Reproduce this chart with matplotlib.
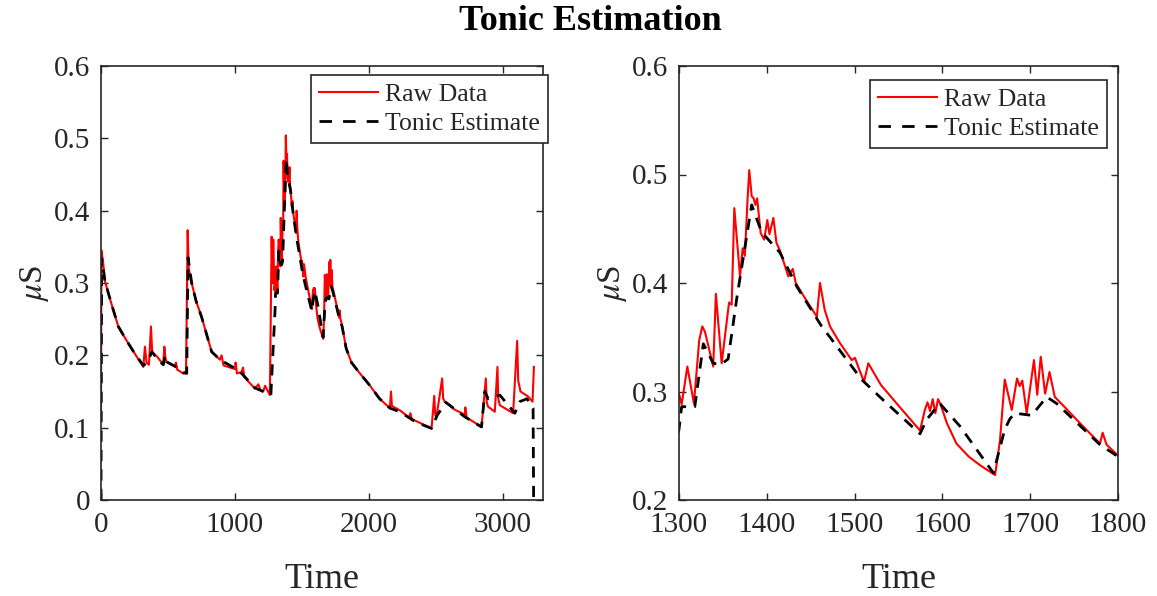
import matplotlib
matplotlib.use("Agg")
import matplotlib.pyplot as plt

# raw skin conductance trace (time, microsiemens)
raw_time = [0, 3, 15, 30, 80, 129, 179, 250, 316, 328, 340, 358, 373, 382, 390, 420,
            465, 473, 482, 490, 550, 560, 570, 614, 635, 647, 655, 677, 710, 751, 790,
            826, 888, 900, 915, 1000, 1005, 1015, 1050, 1060, 1070, 1149, 1175, 1190,
            1211, 1225, 1261, 1274, 1281, 1286, 1295,
            1300, 1303, 1309.5, 1317, 1323, 1326.5, 1329.6, 1339, 1342, 1348.6, 1357,
            1360, 1363, 1369.5, 1372.5, 1375, 1378, 1380, 1382.8, 1385, 1387, 1389,
            1393, 1397, 1400.6, 1403, 1407.5, 1411, 1415, 1424.5, 1429.5, 1433, 1445,
            1457, 1460.6, 1466, 1472, 1483, 1496.7, 1500.5, 1504, 1510.7, 1515.6, 1530,
            1550, 1574.5, 1580, 1583, 1586, 1589, 1592, 1595, 1598, 1605, 1616, 1630,
            1643, 1660, 1665.6, 1671, 1679, 1685, 1688, 1691, 1696, 1704.3, 1708, 1712,
            1717, 1722, 1728, 1740, 1760, 1779.5, 1782.5, 1787, 1800,
            1830, 1870, 1933, 2000, 2080, 2157, 2165, 2172, 2231, 2300, 2310, 2320,
            2331, 2400, 2468, 2488, 2495, 2505, 2547, 2555, 2567, 2640, 2716, 2720,
            2730, 2841, 2873, 2880, 2890, 2940, 2960, 2966, 2978, 3077, 3107, 3115,
            3132, 3189, 3222, 3232]
raw_value = [0.12, 0.345, 0.33, 0.302, 0.27, 0.24, 0.224, 0.203, 0.184, 0.212, 0.19,
             0.187, 0.24, 0.205, 0.203, 0.198, 0.187, 0.212, 0.195, 0.191, 0.185, 0.19,
             0.18, 0.175, 0.178, 0.373, 0.32, 0.30, 0.275, 0.253, 0.228, 0.205, 0.194,
             0.20, 0.186, 0.181, 0.19, 0.175, 0.177, 0.183, 0.17, 0.154, 0.16, 0.152,
             0.15, 0.158, 0.145, 0.364, 0.30, 0.36, 0.29,
             0.298, 0.288, 0.323, 0.289, 0.347, 0.360, 0.355, 0.323, 0.390, 0.326, 0.382,
             0.38, 0.469, 0.406, 0.432, 0.425, 0.476, 0.504, 0.480, 0.478, 0.472, 0.478,
             0.446, 0.44, 0.458, 0.445, 0.460, 0.437, 0.430, 0.406, 0.413, 0.400, 0.384,
             0.369, 0.400, 0.375, 0.36, 0.345, 0.329, 0.331, 0.323, 0.309, 0.326, 0.306,
             0.287, 0.264, 0.283, 0.29, 0.282, 0.293, 0.28, 0.293, 0.288, 0.271, 0.252,
             0.24, 0.232, 0.223, 0.255, 0.311, 0.283, 0.312, 0.305, 0.31, 0.28, 0.329,
             0.297, 0.332, 0.298, 0.318, 0.295, 0.285, 0.268, 0.252, 0.262, 0.251, 0.241,
             0.21, 0.19, 0.175, 0.16, 0.14, 0.127, 0.15, 0.13, 0.124, 0.114, 0.12, 0.112,
             0.111, 0.105, 0.099, 0.144, 0.118, 0.115, 0.168, 0.14, 0.136, 0.125, 0.118,
             0.128, 0.114, 0.101, 0.168, 0.135, 0.129, 0.122, 0.184, 0.14, 0.131, 0.12,
             0.220, 0.165, 0.15, 0.143, 0.136, 0.184]

# tonic estimate
tonic_time = [0, 5, 30, 80, 129, 179, 250, 316, 345, 380, 420, 465, 478, 490, 550,
              614, 640, 650, 677, 710, 751, 790, 826, 888, 1000, 1050, 1149, 1211,
              1268, 1300, 1303, 1318, 1327.7, 1339, 1348, 1356, 1366, 1382.8, 1394,
              1415, 1434, 1462.5, 1472, 1508, 1532.7, 1574.5, 1582, 1597, 1620, 1658,
              1671, 1677, 1682.7, 1701.7, 1718.8, 1730, 1779.5, 1800,
              1830, 1870, 1933, 2000, 2080, 2157, 2231, 2331, 2400, 2468, 2510, 2575,
              2716, 2841, 2866, 2890, 2978, 3090, 3127, 3180, 3226, 3230]
tonic_value = [0.0, 0.334, 0.302, 0.27, 0.24, 0.224, 0.203, 0.186, 0.19, 0.205, 0.195,
               0.187, 0.2, 0.191, 0.185, 0.176, 0.175, 0.335, 0.3, 0.275, 0.253, 0.228,
               0.205, 0.194, 0.182, 0.175, 0.155, 0.15, 0.145, 0.265, 0.286, 0.286,
               0.344, 0.326, 0.325, 0.33, 0.387, 0.472, 0.447, 0.428, 0.397, 0.360,
               0.350, 0.311, 0.292, 0.261, 0.274, 0.289, 0.268, 0.225, 0.265, 0.275,
               0.280, 0.278, 0.295, 0.289, 0.251, 0.240,
               0.21, 0.19, 0.175, 0.16, 0.14, 0.127, 0.122, 0.11, 0.104, 0.099, 0.117,
               0.135, 0.115, 0.101, 0.15, 0.14, 0.145, 0.12, 0.136, 0.14, 0.127, 0.0]

left_xticks = [0, 1000, 2000, 3000]
left_yticks = [0, 0.1, 0.2, 0.3, 0.4, 0.5, 0.6]
right_xticks = [1300, 1400, 1500, 1600, 1700, 1800]
right_yticks = [0.2, 0.3, 0.4, 0.5, 0.6]

plt.rcParams['font.family'] = ['Liberation Serif', 'DejaVu Serif']
plt.rcParams['mathtext.fontset'] = 'stix'
axcol = '#262626'

fig = plt.figure(figsize=(11.57, 5.96), dpi=100)
ax1 = fig.add_axes([101/1157, 1-500/596, 442/1157, 434/596])
ax2 = fig.add_axes([679/1157, 1-500/596, 439/1157, 434/596])

setups = [
    (ax1, (0, 3300), (0, 0.6), left_xticks, left_yticks, (548, 75)),
    (ax2, (1300, 1800), (0.2, 0.6), right_xticks, right_yticks, (1107, 80)),
]
for ax, xl, yl, xt, yt, leg_at in setups:
    ax.plot(raw_time, raw_value, color='red', lw=1.5, label='Raw Data')
    ax.plot(tonic_time, tonic_value, color='black', lw=2.0, dashes=(4, 3),
            label='Tonic Estimate')
    ax.set_xlim(*xl)
    ax.set_ylim(*yl)
    ax.set_xticks(xt)
    ax.set_yticks(yt)
    ax.set_yticklabels([f'{v:g}' for v in yt])
    ax.tick_params(direction='in', top=True, right=True, length=5, width=1,
                   labelsize=21, colors=axcol)
    ax.tick_params(axis='x', pad=9)
    ax.tick_params(axis='y', pad=8)
    for s in ax.spines.values():
        s.set_color(axcol)
        s.set_linewidth(1.2)
    ax.set_xlabel('Time', fontsize=26, color=axcol, labelpad=18)
    ax.set_ylabel(r'$\mu$S', fontsize=24, color=axcol, labelpad=2)
    leg = ax.legend(loc='upper right', bbox_to_anchor=(leg_at[0]/1157, 1-leg_at[1]/596),
                    bbox_transform=fig.transFigure, borderaxespad=0, fontsize=18.5,
                    fancybox=False, framealpha=1, edgecolor=axcol, handlelength=2.3,
                    handletextpad=0.25, labelspacing=0.2, borderpad=0.33)
    leg.get_frame().set_linewidth(1.2)
    leg.get_lines()[1].set_dashes((4.5, 4))
    for t in leg.get_texts():
        t.set_color(axcol)

fig.text(590/1157, 1-22/596, 'Tonic Estimation', ha='center', va='center',
         fontsize=26, fontweight='bold')

fig.savefig('out.png', dpi=100)
